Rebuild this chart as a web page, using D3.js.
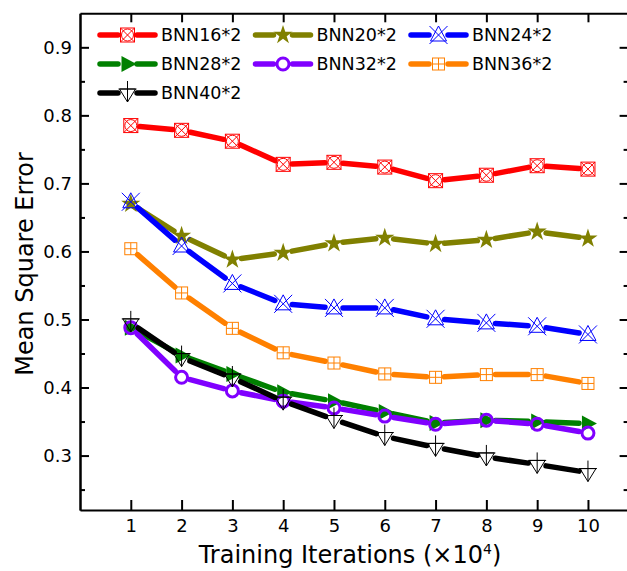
<!DOCTYPE html>
<html>
<head>
<meta charset="utf-8">
<script src="https://cdn.jsdelivr.net/npm/d3@7"></script>
<style>
  body { margin: 0; background: #fff; }
  text { font-family: "DejaVu Sans", sans-serif; fill: #000; }
  .axis path, .axis line { stroke: #000; stroke-width: 2; }
</style>
</head>
<body>
<div id="chart"></div>
<script>
// data
var iterations = [1, 2, 3, 4, 5, 6, 7, 8, 9, 10];
var bnn16 = [0.785, 0.778, 0.762, 0.728, 0.731, 0.724, 0.704, 0.712, 0.726, 0.721];
var bnn20 = [0.670, 0.623, 0.588, 0.598, 0.612, 0.620, 0.611, 0.617, 0.629, 0.619];
var bnn24 = [0.673, 0.608, 0.553, 0.523, 0.517, 0.517, 0.501, 0.495, 0.490, 0.478];
var bnn28 = [0.488, 0.447, 0.420, 0.393, 0.380, 0.364, 0.348, 0.352, 0.350, 0.347];
var bnn32 = [0.488, 0.415, 0.395, 0.380, 0.370, 0.358, 0.346, 0.352, 0.346, 0.333];
var bnn36 = [0.604, 0.539, 0.487, 0.451, 0.436, 0.420, 0.415, 0.419, 0.419, 0.406];
var bnn40 = [0.495, 0.444, 0.414, 0.380, 0.353, 0.328, 0.312, 0.298, 0.287, 0.275];
var seriesNames = ['BNN16*2', 'BNN20*2', 'BNN24*2', 'BNN28*2', 'BNN32*2', 'BNN36*2', 'BNN40*2'];
var seriesColors = ['#ff0000', '#808000', '#0000ff', '#008000', '#8000ff', '#ff8000', '#000000'];
var seriesMarkers = ['squareXCircle', 'star', 'triangleX', 'rightTriangle', 'circle', 'squarePlus', 'downTrianglePlus'];
var yTicks = [0.3, 0.4, 0.5, 0.6, 0.7, 0.8, 0.9];
var yMinorTicks = [0.25, 0.35, 0.45, 0.55, 0.65, 0.75, 0.85];

(function() {
  var W = 627, H = 571;
  var allValues = [bnn16, bnn20, bnn24, bnn28, bnn32, bnn36, bnn40];

  var svg = d3.select('#chart').append('svg').attr('width', W).attr('height', H);

  var x = d3.scaleLinear().domain([0, 10.8]).range([80, 628.6]);
  var y = d3.scaleLinear().domain([0.22, 0.95]).range([510, 13.3]);

  // frame axes, ticks point inward
  svg.append('g').attr('class', 'axis').attr('transform', 'translate(0,' + y.range()[0] + ')')
    .call(d3.axisBottom(x).tickValues(iterations).tickSizeInner(-10).tickSizeOuter(0).tickPadding(9))
    .selectAll('text').style('font-size', '18px');
  svg.append('g').attr('class', 'axis').attr('transform', 'translate(0,' + y.range()[1] + ')')
    .call(d3.axisTop(x).tickValues(iterations).tickSizeInner(-9).tickSizeOuter(0).tickFormat(''));
  svg.append('g').attr('class', 'axis').attr('transform', 'translate(' + x.range()[0] + ',0)')
    .call(d3.axisLeft(y).tickValues(yTicks).tickSizeInner(-9).tickSizeOuter(0).tickPadding(8).tickFormat(d3.format('.1f')))
    .selectAll('text').style('font-size', '18px');
  svg.append('g').attr('class', 'axis').attr('transform', 'translate(' + x.range()[0] + ',0)')
    .call(d3.axisLeft(y).tickValues(yMinorTicks).tickSizeInner(-5).tickSizeOuter(0).tickFormat(''));
  svg.append('g').attr('class', 'axis').attr('transform', 'translate(' + x.range()[1] + ',0)')
    .call(d3.axisRight(y).tickValues(yTicks).tickSizeInner(-9).tickSizeOuter(0).tickFormat(''));
  svg.append('g').attr('class', 'axis').attr('transform', 'translate(' + x.range()[1] + ',0)')
    .call(d3.axisRight(y).tickValues(yMinorTicks).tickSizeInner(-5).tickSizeOuter(0).tickFormat(''));
  svg.selectAll('.axis text').attr('fill', '#000');

  // axis titles
  svg.append('text').attr('transform', 'translate(33,264) rotate(-90)')
    .attr('text-anchor', 'middle').style('font-size', '24px').text('Mean Square Error');
  var xt = svg.append('text').attr('x', 350).attr('y', 563).attr('text-anchor', 'middle').style('font-size', '24px');
  xt.append('tspan').text('Training Iterations (×10');
  xt.append('tspan').attr('dy', -9).style('font-size', '14px').text('4');
  xt.append('tspan').attr('dy', 9).text(')');

  var drawMarker = function(g, kind, color) {
    var thin = { stroke: color, 'stroke-width': 1, fill: 'none' };
    var add = function(tag, attrs, style) {
      var el = g.append(tag);
      for (var k in attrs) el.attr(k, attrs[k]);
      for (var s in style) el.attr(s, style[s]);
      return el;
    };
    if (kind === 'squareXCircle') {
      add('rect', { x: -7, y: -7, width: 14, height: 14 }, thin);
      add('circle', { r: 6 }, thin);
      add('path', { d: 'M-7,-7L7,7M7,-7L-7,7' }, thin);
    } else if (kind === 'star') {
      add('path', { d: d3.symbol(d3.symbolStar, 115)() }, { fill: color, stroke: 'none' });
    } else if (kind === 'triangleX') {
      add('path', { d: 'M0,-9L8,6L-8,6Z' }, thin);
      add('path', { d: 'M-9,-9L9,9M9,-9L-9,9' }, thin);
    } else if (kind === 'rightTriangle') {
      add('path', { d: 'M-6,-8L9,0L-6,8Z' }, { fill: color, stroke: 'none' });
    } else if (kind === 'circle') {
      add('circle', { r: 6 }, { stroke: color, 'stroke-width': 3, fill: 'none' });
    } else if (kind === 'squarePlus') {
      add('rect', { x: -6, y: -6, width: 12, height: 12 }, thin);
      add('path', { d: 'M-6,0L6,0M0,-6L0,6' }, thin);
    } else if (kind === 'downTrianglePlus') {
      add('path', { d: 'M-8,-4L8,-4L0,9Z' }, thin);
      add('path', { d: 'M-9,-4L9,-4M0,-12L0,9' }, thin);
    }
  };

  // lines with gaps around markers
  var trim = 9;
  var segment = function(g, p0, p1, color) {
    var dx = p1[0] - p0[0], dy = p1[1] - p0[1];
    var len = Math.sqrt(dx * dx + dy * dy);
    if (len <= 2 * trim) return;
    var ux = dx / len, uy = dy / len;
    g.append('line')
      .attr('x1', p0[0] + ux * trim).attr('y1', p0[1] + uy * trim)
      .attr('x2', p1[0] - ux * trim).attr('y2', p1[1] - uy * trim)
      .attr('stroke', color).attr('stroke-width', 5.5).attr('stroke-linecap', 'round');
  };

  allValues.forEach(function(vals, si) {
    var g = svg.append('g');
    var color = seriesColors[si];
    var pts = vals.map(function(v, i) { return [x(iterations[i]), y(v)]; });
    for (var i = 1; i < pts.length; i++) segment(g, pts[i - 1], pts[i], color);
    pts.forEach(function(p) {
      drawMarker(g.append('g').attr('transform', 'translate(' + p[0] + ',' + p[1] + ')'), seriesMarkers[si], color);
    });
  });

  // legend
  var legCols = [100, 255.5, 411], legRows = [35, 64, 93];
  seriesNames.forEach(function(name, i) {
    var lx = legCols[i % 3], ly = legRows[Math.floor(i / 3)];
    var g = svg.append('g').attr('transform', 'translate(' + lx + ',' + ly + ')');
    var color = seriesColors[i];
    [[0, 18], [37, 55]].forEach(function(s) {
      g.append('line').attr('x1', s[0]).attr('x2', s[1]).attr('y1', 0).attr('y2', 0)
        .attr('stroke', color).attr('stroke-width', 5.5).attr('stroke-linecap', 'round');
    });
    drawMarker(g.append('g').attr('transform', 'translate(27.5,0)'), seriesMarkers[i], color);
    g.append('text').attr('x', 61).attr('y', 0).attr('dy', '0.36em').style('font-size', '17.5px').text(name);
  });
})();
</script>
</body>
</html>
